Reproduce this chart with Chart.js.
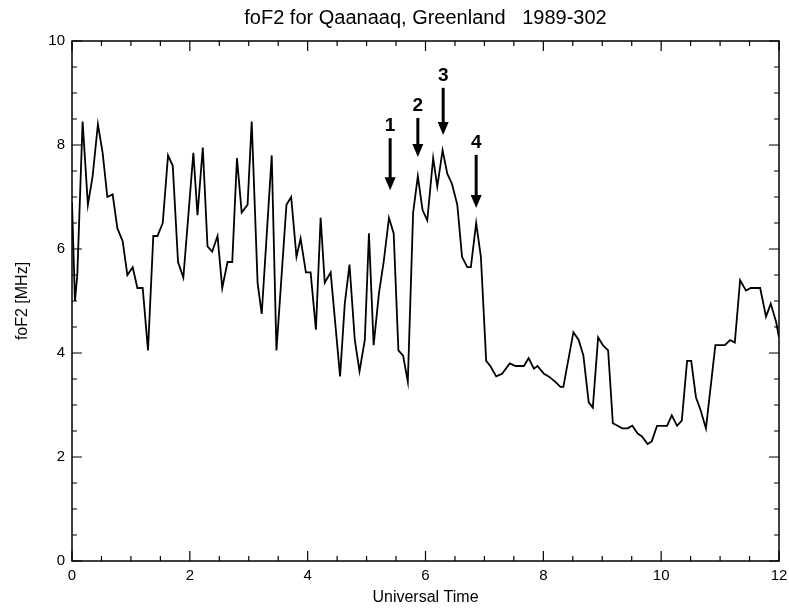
<!DOCTYPE html>
<html>
<head>
<meta charset="utf-8">
<script src="https://cdn.jsdelivr.net/npm/chart.js@4.4.1/dist/chart.umd.min.js"></script>
<style>
  html, body { margin: 0; padding: 0; background: #fff; }
  #wrap { width: 789px; height: 609px; }
</style>
</head>
<body>
<div id="wrap"><canvas id="fof2"></canvas></div>
<script>
// Universal Time (hours) and foF2 (MHz)
const times = [
  0, 0.05, 0.09, 0.18, 0.27, 0.35, 0.44, 0.52, 0.60, 0.69, 0.77, 0.86, 0.94, 1.03, 1.11, 1.20,
  1.29, 1.38, 1.45, 1.54, 1.63, 1.71, 1.80, 1.89, 2.06, 2.13, 2.22, 2.30, 2.38, 2.47, 2.55, 2.64,
  2.72, 2.80, 2.88, 2.98, 3.05, 3.15, 3.22, 3.39, 3.47, 3.64, 3.72, 3.81, 3.88, 3.97, 4.05, 4.14,
  4.22, 4.29, 4.39, 4.55, 4.63, 4.71, 4.80, 4.88, 4.97, 5.04, 5.12, 5.21, 5.29, 5.38, 5.46, 5.54,
  5.62, 5.70, 5.79, 5.87, 5.95, 6.03, 6.13, 6.20, 6.29, 6.37, 6.45, 6.54, 6.62, 6.71, 6.77, 6.86,
  6.94, 7.03, 7.10, 7.20, 7.30, 7.43, 7.53, 7.67, 7.75, 7.84, 7.90, 8.01, 8.09, 8.20, 8.29, 8.34,
  8.51, 8.60, 8.68, 8.77, 8.84, 8.93, 9.01, 9.10, 9.18, 9.26, 9.34, 9.43, 9.51, 9.60, 9.67, 9.77,
  9.84, 9.93, 10.01, 10.10, 10.18, 10.27, 10.35, 10.44, 10.51, 10.59, 10.67, 10.76, 10.92, 11.00,
  11.08, 11.17, 11.25, 11.34, 11.44, 11.52, 11.68, 11.78, 11.86, 11.95, 12.0
]
const fof2 = [
  6.9, 5.0, 5.5, 8.45, 6.85, 7.4, 8.4, 7.85, 7.0, 7.05, 6.4, 6.15, 5.5, 5.65, 5.25, 5.25,
  4.05, 6.25, 6.25, 6.5, 7.8, 7.6, 5.75, 5.45, 7.85, 6.65, 7.95, 6.05, 5.95, 6.25, 5.25, 5.75,
  5.75, 7.75, 6.7, 6.85, 8.45, 5.35, 4.75, 7.8, 4.05, 6.85, 7.0, 5.85, 6.2, 5.55, 5.55, 4.45,
  6.6, 5.35, 5.55, 3.55, 4.95, 5.7, 4.25, 3.65, 4.25, 6.3, 4.15, 5.15, 5.75, 6.6, 6.3, 4.05,
  3.95, 3.45, 6.7, 7.4, 6.75, 6.55, 7.75, 7.2, 7.9, 7.45, 7.25, 6.85, 5.85, 5.65, 5.65, 6.5,
  5.85, 3.85, 3.75, 3.55, 3.6, 3.8, 3.75, 3.75, 3.9, 3.7, 3.75, 3.6, 3.55, 3.45, 3.35, 3.35,
  4.4, 4.25, 3.95, 3.05, 2.95, 4.3, 4.15, 4.05, 2.65, 2.6, 2.55, 2.55, 2.6, 2.45, 2.4, 2.25,
  2.3, 2.6, 2.6, 2.6, 2.8, 2.6, 2.7, 3.85, 3.85, 3.15, 2.9, 2.55, 4.15, 4.15,
  4.15, 4.25, 4.2, 5.4, 5.2, 5.25, 5.25, 4.7, 4.95, 4.6, 4.3
]

// numbered arrows above the peaks
const markLabels = ['1', '2', '3', '4']
const markTimes = [5.40, 5.87, 6.30, 6.86]
const markTips = [7.13, 7.77, 8.19, 6.79]
const markTails = [8.13, 8.52, 9.10, 7.81]

Chart.defaults.color = '#000'
Chart.defaults.font.family = '"Liberation Sans", Arial, sans-serif'

// frame with inward ticks on all sides, plus the arrows
const frame = {
  id: 'frame',
  afterDatasetsDraw(chart) {
    const { ctx, chartArea: a, scales: { x, y } } = chart
    ctx.save()
    ctx.strokeStyle = '#000'
    ctx.fillStyle = '#000'
    ctx.lineWidth = 1.5
    ctx.strokeRect(a.left, a.top, a.right - a.left, a.bottom - a.top)

    ctx.lineWidth = 1.2
    ctx.beginPath()
    x.ticks.forEach(t => {
      const px = x.getPixelForValue(t.value)
      const len = t.value % 2 === 0 ? 10 : 5
      ctx.moveTo(px, a.bottom); ctx.lineTo(px, a.bottom - len)
      ctx.moveTo(px, a.top); ctx.lineTo(px, a.top + len)
    })
    y.ticks.forEach(t => {
      const py = y.getPixelForValue(t.value)
      const len = t.value % 2 === 0 ? 10 : 5
      ctx.moveTo(a.left, py); ctx.lineTo(a.left + len, py)
      ctx.moveTo(a.right, py); ctx.lineTo(a.right - len, py)
    })
    ctx.stroke()

    markLabels.forEach((lab, i) => {
      const px = x.getPixelForValue(markTimes[i])
      const tip = y.getPixelForValue(markTips[i])
      const tail = y.getPixelForValue(markTails[i])
      ctx.lineWidth = 3
      ctx.beginPath()
      ctx.moveTo(px, tail)
      ctx.lineTo(px, tip - 10)
      ctx.stroke()
      ctx.beginPath()
      ctx.moveTo(px - 5.5, tip - 13)
      ctx.lineTo(px + 5.5, tip - 13)
      ctx.lineTo(px, tip)
      ctx.closePath()
      ctx.fill()
      ctx.font = 'bold 19px "Liberation Sans", Arial, sans-serif'
      ctx.textAlign = 'center'
      ctx.textBaseline = 'bottom'
      ctx.fillText(lab, px, tail - 3)
    })
    ctx.restore()
  }
}

new Chart(document.getElementById('fof2'), {
  type: 'line',
  data: {
    datasets: [{
      label: 'foF2',
      data: times.map((t, i) => ({ x: t, y: fof2[i] })),
      borderColor: '#000',
      borderWidth: 1.8,
      pointRadius: 0,
      tension: 0,
      fill: false
    }]
  },
  options: {
    responsive: true,
    maintainAspectRatio: false,
    animation: false,
    layout: { padding: { right: 10 } },
    plugins: {
      legend: { display: false },
      tooltip: { enabled: false },
      title: {
        display: true,
        text: 'foF2 for Qaanaaq, Greenland   1989-302',
        fullSize: false,
        font: { size: 20, weight: 'normal' },
        padding: { top: 6, bottom: 11 }
      }
    },
    scales: {
      x: {
        type: 'linear',
        min: 0,
        max: 12,
        grid: { display: false, drawTicks: false },
        border: { display: false },
        ticks: {
          stepSize: 0.5,
          autoSkip: false,
          maxRotation: 0,
          padding: 6,
          font: { size: 15 },
          callback: v => (v % 2 === 0 ? v : '')
        },
        title: {
          display: true,
          text: 'Universal Time',
          font: { size: 16 },
          padding: { top: 0, bottom: 2 }
        },
        afterFit: s => { s.height = 48; s.paddingLeft = 0; s.paddingRight = 0 }
      },
      y: {
        min: 0,
        max: 10,
        grid: { display: false, drawTicks: false },
        border: { display: false },
        ticks: {
          stepSize: 0.5,
          autoSkip: false,
          padding: 7,
          font: { size: 15 },
          callback: v => (v % 2 === 0 ? v : '')
        },
        title: {
          display: true,
          text: 'foF2 [MHz]',
          font: { size: 16 },
          padding: { top: 13, bottom: 0 }
        },
        afterFit: s => { s.width = 72; s.paddingTop = 0; s.paddingBottom = 0 }
      }
    }
  },
  plugins: [frame]
})
</script>
</body>
</html>
